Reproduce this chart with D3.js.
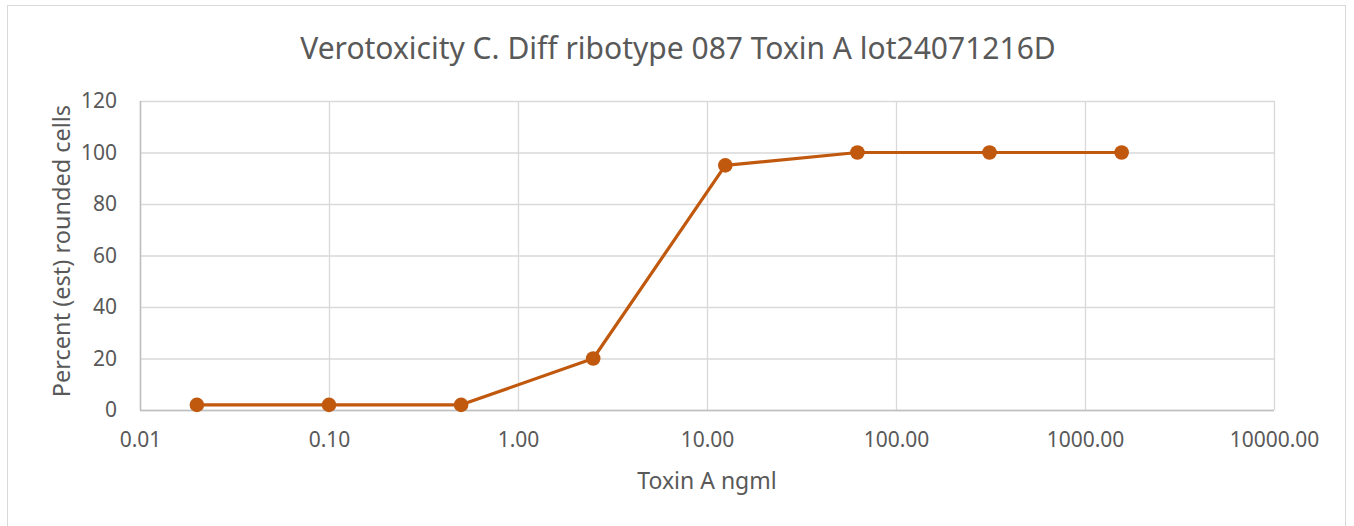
<!DOCTYPE html>
<html><head><meta charset="utf-8">
<script src="https://cdn.jsdelivr.net/npm/d3@7"></script>
<style>body{margin:0;background:#fff;}svg{display:block;font-family:"Noto Sans","Open Sans",sans-serif;}</style>
</head><body>
<svg id="c" width="1354" height="526"></svg>
<script>
const doses = [0.02, 0.1, 0.5, 2.5, 12.5, 62.5, 312.5, 1562.5];
const percent = [2, 2, 2, 20, 95, 100, 100, 100];
const xTicks = [0.01, 0.1, 1, 10, 100, 1000, 10000];
const yTicks = [0, 20, 40, 60, 80, 100, 120];
const title = "Verotoxicity C. Diff ribotype 087 Toxin A lot24071216D";
const xLabel = "Toxin A ngml";
const yLabel = "Percent (est) rounded cells";

const svg = d3.select("#c");
const L = 140, R = 1274, T = 101, B = 410;
svg.append("rect").attr("x",7.5).attr("y",5.5).attr("width",1338).attr("height",530).attr("fill","#fff").attr("stroke","#d9d9d9");
const x = d3.scaleLog().domain([0.01, 10000]).range([L, R]);
const y = d3.scaleLinear().domain([0, 120]).range([B, T]);
const grid = svg.append("g");
grid.selectAll(".h").data(yTicks).join("line").attr("x1",L).attr("x2",R).attr("y1",d=>y(d)+0.5).attr("y2",d=>y(d)+0.5).attr("stroke","#d9d9d9").attr("stroke-width",1.3);
grid.selectAll(".v").data(xTicks).join("line").attr("y1",T).attr("y2",B).attr("x1",d=>x(d)+0.5).attr("x2",d=>x(d)+0.5).attr("stroke","#d9d9d9").attr("stroke-width",1.3);
grid.append("line").attr("x1",L).attr("x2",R).attr("y1",B+0.5).attr("y2",B+0.5).attr("stroke","#bfbfbf").attr("stroke-width",1.5);
grid.append("line").attr("x1",L+0.5).attr("x2",L+0.5).attr("y1",T).attr("y2",B).attr("stroke","#bfbfbf").attr("stroke-width",1.5);

const xa = svg.append("g").attr("transform",`translate(0,${B})`).call(d3.axisBottom(x).tickValues(xTicks).tickFormat(d3.format(".2f")).tickSize(0).tickPadding(22));
xa.select(".domain").remove();
xa.selectAll("text").attr("fill","#595959").attr("font-size",21).attr("font-family","Noto Sans");
const ya = svg.append("g").attr("transform",`translate(${L},0)`).call(d3.axisLeft(y).tickValues(yTicks).tickSize(0).tickPadding(23));
ya.select(".domain").remove();
ya.selectAll("text").attr("fill","#595959").attr("font-size",21).attr("font-family","Noto Sans");

const data = doses.map((d,i)=>[d, percent[i]]);
svg.append("path").datum(data).attr("fill","none").attr("stroke","#C0580E").attr("stroke-width",3.2).attr("stroke-linejoin","round")
  .attr("d", d3.line().x(d=>x(d[0])).y(d=>y(d[1])));
svg.selectAll(".pt").data(data).join("circle").attr("cx",d=>x(d[0])).attr("cy",d=>y(d[1])).attr("r",7.3).attr("fill","#C0580E");

svg.append("text").attr("x",678).attr("y",59).attr("text-anchor","middle").attr("font-size",30).attr("fill","#595959").text(title);
svg.append("text").attr("x",707).attr("y",489).attr("text-anchor","middle").attr("font-size",23).attr("fill","#595959").text(xLabel);
svg.append("text").attr("transform","translate(70,251) rotate(-90)").attr("text-anchor","middle").attr("font-size",23.5).attr("fill","#595959").text(yLabel);
</script>
</body></html>
